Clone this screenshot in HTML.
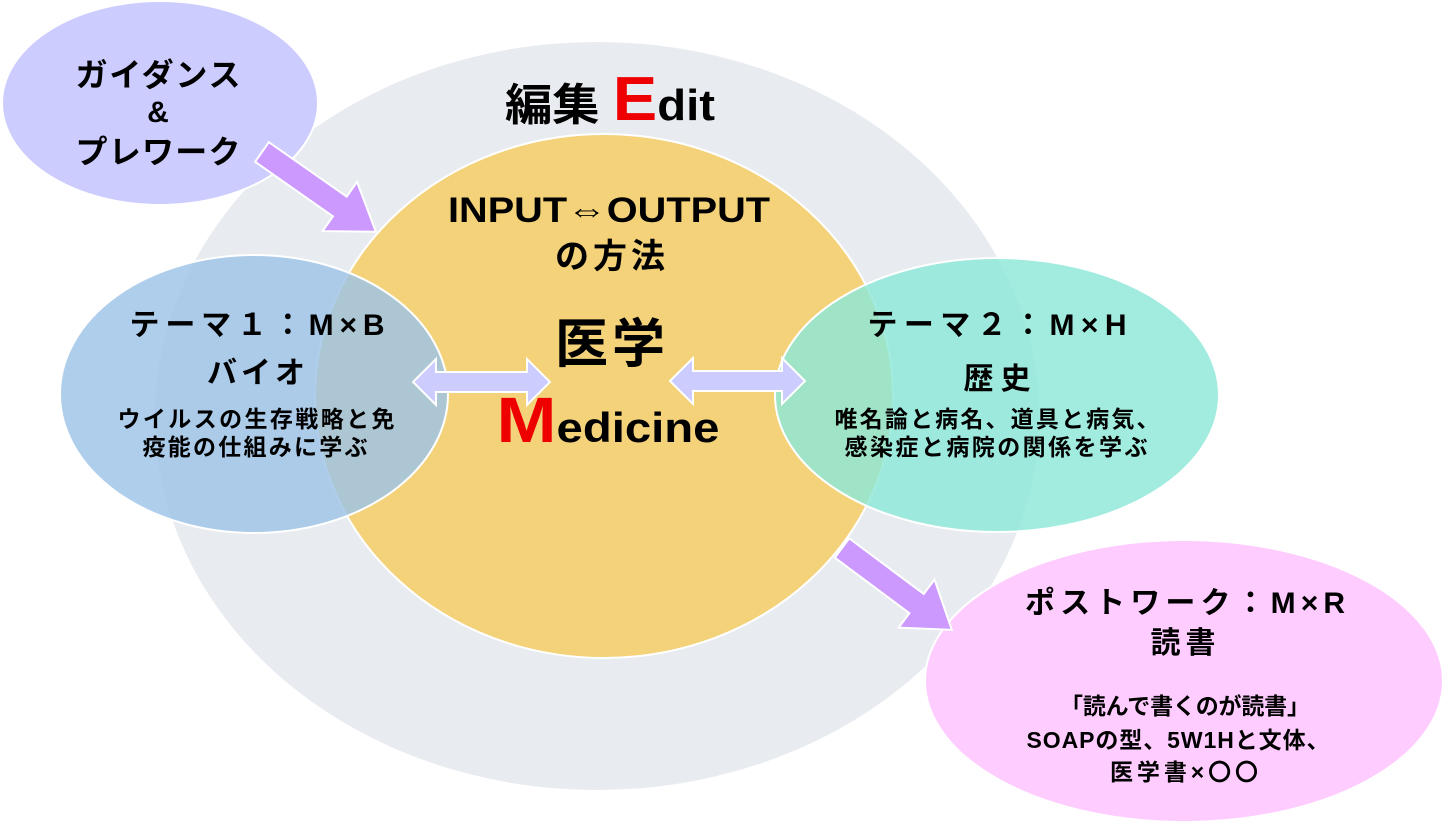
<!DOCTYPE html>
<html><head><meta charset="utf-8"><style>
html,body{margin:0;padding:0;background:#fff;}
svg{display:block}
text{font-family:"Liberation Sans","Noto Sans CJK JP",sans-serif;font-weight:bold;fill:#000;text-anchor:middle}
</style></head><body>
<svg width="1446" height="828" viewBox="0 0 1446 828" xmlns="http://www.w3.org/2000/svg">
<rect width="1446" height="828" fill="#fff"/>
<ellipse cx="597" cy="416" rx="442" ry="374" fill="#e8ebf0"/>
<ellipse cx="160" cy="103" rx="158" ry="102" fill="#ccccff" stroke="#fff" stroke-width="2"/>
<ellipse cx="604" cy="396" rx="289" ry="262" fill="#f3d27a" stroke="#fff" stroke-width="2"/>
<ellipse cx="254" cy="394" rx="194" ry="139" fill="#9dc3e6" fill-opacity="0.82" stroke="#fff" stroke-width="2"/>
<ellipse cx="997" cy="395" rx="222" ry="137" fill="#8ee8d8" fill-opacity="0.82" stroke="#fff" stroke-width="2"/>
<ellipse cx="1184" cy="681" rx="259" ry="141" fill="#ffccff" stroke="#fff" stroke-width="2"/>
<g transform="translate(262,152) rotate(35)">
<polygon points="0,-12 95,-12 95,-30 139,0 95,30 95,12 0,12" fill="#cc99ff" stroke="#fff" stroke-width="2"/>
</g>
<g transform="translate(842,548) rotate(36.7)">
<polygon points="0,-12 93,-12 93,-30 137,0 93,30 93,12 0,12" fill="#cc99ff" stroke="#fff" stroke-width="2"/>
</g>
<polygon points="413,382 436,359 436,372 527,372 527,359 550,382 527,405 527,392 436,392 436,405" fill="#ccccff" stroke="#fff" stroke-width="2"/>
<polygon points="670,381 693,358 693,371 782,371 782,358 805,381 782,404 782,391 693,391 693,404" fill="#ccccff" stroke="#fff" stroke-width="2"/>

<text x="610" y="120" font-size="44" textLength="210" lengthAdjust="spacingAndGlyphs">編集 <tspan fill="#ee0000" font-size="62">E</tspan>dit</text>
<text x="609" y="222" font-size="35" textLength="322" lengthAdjust="spacingAndGlyphs">INPUT⇔OUTPUT</text>
<text x="610" y="268" font-size="34" textLength="110" lengthAdjust="spacing">の方法</text>
<text x="610" y="362" font-size="53" textLength="110" lengthAdjust="spacing">医学</text>
<text x="608" y="442" font-size="42" textLength="223" lengthAdjust="spacingAndGlyphs"><tspan fill="#ee0000" font-size="64">M</tspan>edicine</text>

<text x="158" y="86" font-size="32" textLength="165" lengthAdjust="spacing">ガイダンス</text>
<text x="158" y="122" font-size="30">&amp;</text>
<text x="158" y="163" font-size="32" textLength="165" lengthAdjust="spacing">プレワーク</text>

<text x="257" y="335" font-size="30" textLength="255" lengthAdjust="spacing">テーマ１：M×B</text>
<text x="256" y="383" font-size="30" textLength="98" lengthAdjust="spacing">バイオ</text>
<text x="256" y="427" font-size="23" textLength="277" lengthAdjust="spacing">ウイルスの生存戦略と免</text>
<text x="255" y="455" font-size="23" textLength="225" lengthAdjust="spacing">疫能の仕組みに学ぶ</text>

<text x="997" y="335" font-size="30" textLength="259" lengthAdjust="spacing">テーマ２：M×H</text>
<text x="997" y="389" font-size="30" textLength="67" lengthAdjust="spacing">歴史</text>
<text x="997" y="427" font-size="23" textLength="325" lengthAdjust="spacing">唯名論と病名、道具と病気、</text>
<text x="996" y="455" font-size="23" textLength="303" lengthAdjust="spacing">感染症と病院の関係を学ぶ</text>

<text x="1185" y="613" font-size="30" textLength="320" lengthAdjust="spacing">ポストワーク：M×R</text>
<text x="1183" y="653" font-size="30" textLength="65" lengthAdjust="spacing">読書</text>
<text x="1185" y="714" font-size="23" textLength="250" lengthAdjust="spacing">「読んで書くのが読書」</text>
<text x="1178" y="748" font-size="23" textLength="303" lengthAdjust="spacing">SOAPの型、5W1Hと文体、</text>
<text x="1184" y="780" font-size="23" textLength="148" lengthAdjust="spacing">医学書×〇〇</text>
</svg>
</body></html>
